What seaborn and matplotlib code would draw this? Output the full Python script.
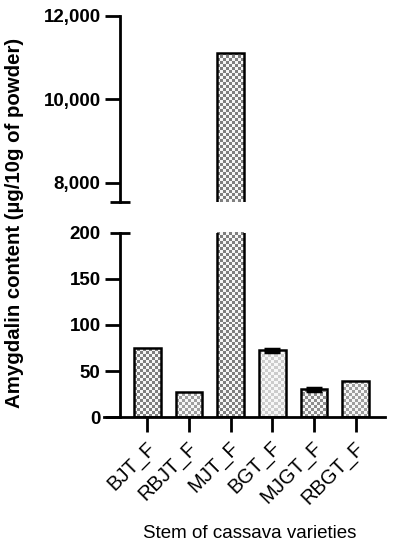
import numpy as np
import pandas as pd
import matplotlib
matplotlib.use("Agg")
import matplotlib.pyplot as plt
import matplotlib.ticker as mticker
import matplotlib.transforms as mtransforms
import seaborn as sns

# ---- data ----
categories = ["BJT_F", "RBJT_F", "MJT_F", "BGT_F", "MJGT_F", "RBGT_F"]
values = [75.5, 27.0, 11110.0, 72.5, 30.5, 39.5]
errors = [0.0, 0.0, 0.0, 2.0, 1.5, 0.0]
top_ticks = [8000, 10000, 12000]
bottom_ticks = [0, 50, 100, 150]
break_top = 200
break_bottom = 7545
top_max = 12000

# checker shade (dark square gray level) for each bar
shades = [0.50, 0.62, 0.50, 0.80, 0.55, 0.62]

df = pd.DataFrame({"variety": categories, "amygdalin": values})

sns.set_theme(style="white")
plt.rcParams["font.family"] = ["Liberation Sans", "DejaVu Sans"]

W, H, DPI = 393, 550, 100
fig = plt.figure(figsize=(W / DPI, H / DPI), dpi=DPI)

def px_axes(left, top, right, bottom):
    return fig.add_axes([left / W, 1 - bottom / H, (right - left) / W, (bottom - top) / H])

ax_top = px_axes(104, 15.7, 385, 201.7)
ax_bot = px_axes(104, 232.7, 385, 417.3)

xlim = (-1.04, 5.70)
spine_x = -0.655
lw = 2.0
cell_px = 3
fs_tick = 13.5

err_idx = [i for i, e in enumerate(errors) if e > 0]

for ax, ylim in [(ax_top, (break_bottom, top_max)), (ax_bot, (0, break_top))]:
    ax.set_facecolor("none")
    sns.barplot(data=df, x="variety", y="amygdalin", order=categories, ax=ax,
                color="white", edgecolor="black", linewidth=1.8, width=0.64,
                errorbar=None, saturation=1)
    ax.errorbar(x=err_idx, y=[values[i] for i in err_idx],
                yerr=[errors[i] for i in err_idx], fmt="none",
                ecolor="black", elinewidth=2, capsize=5.5, capthick=2.5, zorder=5)
    # checker texture inside each bar
    bbox = ax.get_position()
    wpx, hpx = bbox.width * W, bbox.height * H
    ncols, nrows = int(round(wpx / cell_px)), int(round(hpx / cell_px))
    rr, cc = np.mgrid[0:nrows, 0:ncols]
    mask = ((rr + cc) % 2 == 0)
    for patch, shade in zip(ax.patches, shades):
        g = np.where(mask, shade, 0.97)
        rgb = np.dstack([g, g, g])
        im = ax.imshow(rgb, extent=(0, 1, 0, 1), transform=ax.transAxes,
                       aspect="auto", interpolation="nearest", zorder=1.5)
        im.set_clip_path(patch)
        patch.set_facecolor("none")
        patch.set_zorder(3)
    ax.set_xlim(*xlim)
    ax.set_ylim(*ylim)
    ax.set_xlabel("")
    ax.set_ylabel("")
    for s in ["top", "right"]:
        ax.spines[s].set_visible(False)
    ax.spines["left"].set_position(("data", spine_x))
    for s in ["left", "bottom"]:
        ax.spines[s].set_linewidth(lw)
        ax.spines[s].set_color("black")

# top panel
ax_top.spines["bottom"].set_visible(False)
ax_top.set_xticks([])
ax_top.yaxis.set_major_locator(mticker.FixedLocator(top_ticks))
ax_top.yaxis.set_major_formatter(mticker.FuncFormatter(lambda v, p: f"{int(v):,}"))
ax_top.yaxis.set_minor_locator(mticker.FixedLocator([break_bottom]))
ax_top.tick_params(axis="y", which="major", direction="out", length=11, width=lw,
                   color="black", labelsize=fs_tick, pad=3, left=True)
ax_top.tick_params(axis="y", which="minor", direction="inout", length=14.4, width=lw,
                   color="black", left=True)

# bottom panel
ax_bot.yaxis.set_major_locator(mticker.FixedLocator(bottom_ticks))
ax_bot.yaxis.set_minor_locator(mticker.FixedLocator([break_top]))
ax_bot.yaxis.set_minor_formatter(mticker.FixedFormatter([str(break_top)]))
ax_bot.tick_params(axis="y", which="major", direction="out", length=11, width=lw,
                   color="black", labelsize=fs_tick, pad=3, left=True)
ax_bot.tick_params(axis="y", which="minor", direction="inout", length=14.4, width=lw,
                   color="black", labelsize=fs_tick, pad=7.2, left=True)
ax_bot.set_xticks(range(len(categories)))
ax_bot.set_xticklabels(categories, rotation=45, ha="right", va="top",
                       rotation_mode="anchor", fontsize=14.5)
ax_bot.tick_params(axis="x", which="major", direction="out", length=11, width=lw,
                   color="black", pad=4, bottom=True)
shift = mtransforms.ScaledTranslation(-1 / 72, 0, fig.dpi_scale_trans)
for lab in ax_bot.get_xticklabels():
    lab.set_transform(lab.get_transform() + shift)
    lab.set_color("black")

for ax in (ax_top, ax_bot):
    for lab in ax.get_yticklabels() + ax.get_yticklabels(minor=True):
        lab.set_fontweight("bold")
        lab.set_color("black")

fig.text(15 / W, 1 - 223 / H, "Amygdalin content (µg/10g of powder)", rotation=90,
         ha="center", va="center", fontsize=14.7, fontweight="bold", color="black")
fig.text(250 / W, 1 - 534 / H, "Stem of cassava varieties", ha="center", va="center",
         fontsize=13.5, color="black")

fig.savefig("out.png", dpi=DPI)
